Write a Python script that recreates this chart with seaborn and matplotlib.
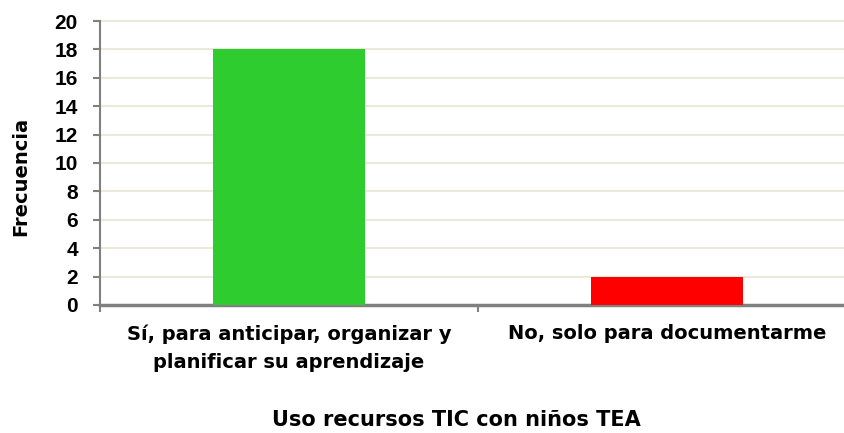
import matplotlib
matplotlib.use("Agg")
import matplotlib.pyplot as plt
import seaborn as sns
import pandas as pd

categories = ["Sí, para anticipar, organizar y\nplanificar su aprendizaje", "No, solo para documentarme"]
values = [18, 2]
colors = ["#2ECC2E", "#FF0000"]
y_ticks = list(range(0, 21, 2))
y_label = "Frecuencia"
x_label = "Uso recursos TIC con niños TEA"

sns.set_theme(style="white")
plt.rcParams['font.family'] = ['Liberation Sans', 'DejaVu Sans']
plt.rcParams['text.color'] = 'black'
plt.rcParams['xtick.color'] = 'black'
plt.rcParams['ytick.color'] = 'black'
plt.rcParams['axes.labelcolor'] = 'black'

fig = plt.figure(figsize=(8.45, 4.33), dpi=100)
ax = fig.add_axes([100/845, (433-305)/433, (856-100)/845, (305-21)/433])

df = pd.DataFrame({"cat": categories, "val": values})
sns.barplot(data=df, x="cat", y="val", hue="cat", palette=colors, width=0.4,
            ax=ax, legend=False, saturation=1, zorder=3, edgecolor="none")

wide = ['DejaVu Sans']

ax.set_xlim(-0.5, 1.5)
ax.set_ylim(0, 20)
ax.set_yticks(y_ticks)
ax.set_yticklabels([str(t) for t in y_ticks], fontsize=15, fontweight="bold")
ax.yaxis.grid(True, color="#EDE8DC", linewidth=1.5, zorder=0, clip_on=False)
ax.set_axisbelow(True)

ax.set_xticks([0, 1])
ax.set_xticklabels(categories, fontsize=14, fontweight="bold", linespacing=1.6, family=wide)
ax.tick_params(axis="x", length=0, pad=14)
ax.tick_params(axis="y", length=5, width=1.5, color="#808080", direction="out", pad=11, left=True)

ax.set_xticks([-0.5, 0.5, 1.5], minor=True)
ax.tick_params(axis="x", which="minor", length=5, width=1.5, color="#808080", direction="out", bottom=True)

for s in ["top", "right"]:
    ax.spines[s].set_visible(False)
ax.spines["left"].set_color("#808080")
ax.spines["left"].set_linewidth(1.5)
ax.spines["bottom"].set_color("#808080")
ax.spines["bottom"].set_linewidth(2.5)

ax.set_ylabel("")
ax.set_xlabel("")
fig.text(21/845, 1 - 176/433, y_label, rotation=90, ha="center", va="center",
         fontsize=14, fontweight="bold", family=wide)
fig.text(456/845, 1 - 420/433, x_label, ha="center", va="center",
         fontsize=15, fontweight="bold", family=wide)

fig.savefig("out.png", dpi=100)
